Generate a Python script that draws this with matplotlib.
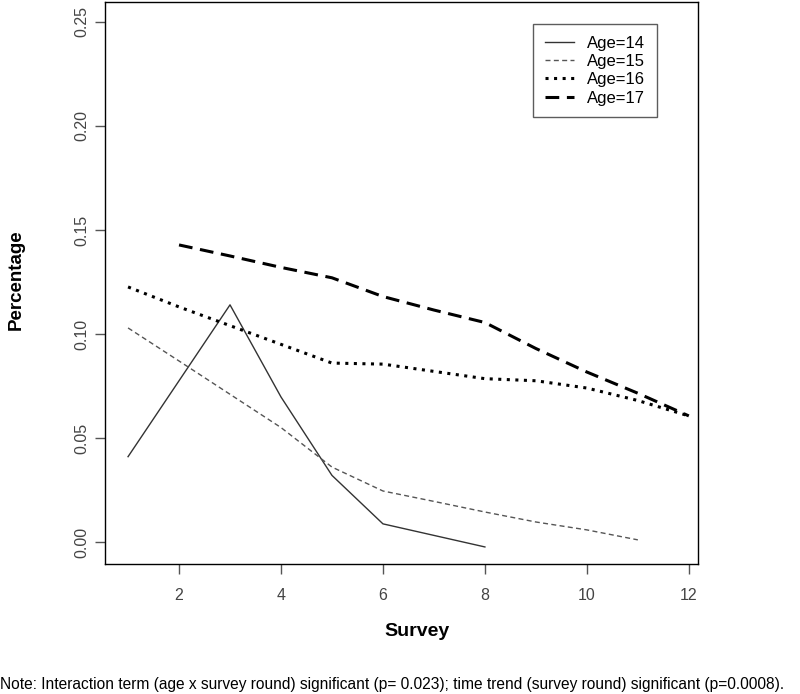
import matplotlib
matplotlib.use("Agg")
import matplotlib.pyplot as plt

plt.rcParams['font.family'] = ['Liberation Sans', 'DejaVu Sans']

# Data
x14 = [1, 3, 4, 5, 6, 8]
y14 = [0.041, 0.114, 0.0697, 0.032, 0.0087, -0.0024]

x15 = [1, 2, 3, 4, 5, 6, 7, 8, 9, 10, 11]
y15 = [0.1029, 0.087, 0.071, 0.055, 0.036, 0.0245, 0.0195, 0.0144, 0.0096, 0.0058, 0.001]

x16 = [1, 2, 3, 4, 5, 6, 7, 8, 9, 10, 11, 12]
y16 = [0.1226, 0.113, 0.104, 0.095, 0.086, 0.0855, 0.082, 0.0785, 0.0775, 0.074, 0.068, 0.0606]

x17 = [2, 3, 4, 5, 6, 7, 8, 9, 10, 11, 12]
y17 = [0.1428, 0.1375, 0.132, 0.127, 0.118, 0.1115, 0.1055, 0.093, 0.0817, 0.0715, 0.0606]

labels = ['Age=14', 'Age=15', 'Age=16', 'Age=17']
xticks = [2, 4, 6, 8, 10, 12]
yticks = [0.00, 0.05, 0.10, 0.15, 0.20, 0.25]
note = "Note: Interaction term (age x survey round) significant (p= 0.023); time trend (survey round) significant (p=0.0008)."

W, H = 800, 694
fig = plt.figure(figsize=(W / 100, H / 100), dpi=100)
ax = fig.add_axes([104.6 / W, 1 - 564 / H, (698 - 104.6) / W, (564 - 2) / H])

ax.plot(x14, y14, color='#333333', lw=1.0, ls='-', label=labels[0])
ax.plot(x15, y15, color='#555555', lw=1.0, ls=(0, (3.6, 2.4)), label=labels[1])
ax.plot(x16, y16, color='black', lw=2.2, ls=(0, (1.0, 1.8)), dash_capstyle='butt', label=labels[2])
ax.plot(x17, y17, color='black', lw=2.2, ls=(0, (4.5, 2.5)), label=labels[3])

ax.set_xlim(0.54, 12.18)
ax.set_ylim(-0.0106, 0.2596)
ax.set_xticks(xticks)
ax.set_xticklabels([str(t) for t in xticks])
ax.set_yticks(yticks)
ax.set_yticklabels([f"{t:.2f}" for t in yticks], rotation=90, va='center')
ax.tick_params(axis='both', direction='out', length=7, width=1, colors='#555555',
               labelsize=11.5, labelcolor='#444444')
ax.tick_params(axis='x', pad=10)
ax.tick_params(axis='y', pad=4)
for s in ax.spines.values():
    s.set_color('black')
    s.set_linewidth(1.0)

fig.text(417 / W, 1 - 631 / H, 'Survey', fontsize=14, fontweight='bold', ha='center', va='center')
fig.text(16.5 / W, 1 - 280 / H, 'Percentage', fontsize=13.5, fontweight='bold', ha='center', va='center',
         rotation=90)

leg = ax.legend(loc='upper right', bbox_to_anchor=(0.931, 0.961), fontsize=12, frameon=True,
                fancybox=False, edgecolor='#333333', handlelength=1.75, borderpad=0.7,
                labelspacing=0.2, handletextpad=0.8, borderaxespad=0)
leg.get_frame().set_linewidth(1.0)

fig.text(0.0, 1 - 685 / H, note, fontsize=11.2, ha='left', va='center', color='black')

fig.savefig('out.png', dpi=100)
